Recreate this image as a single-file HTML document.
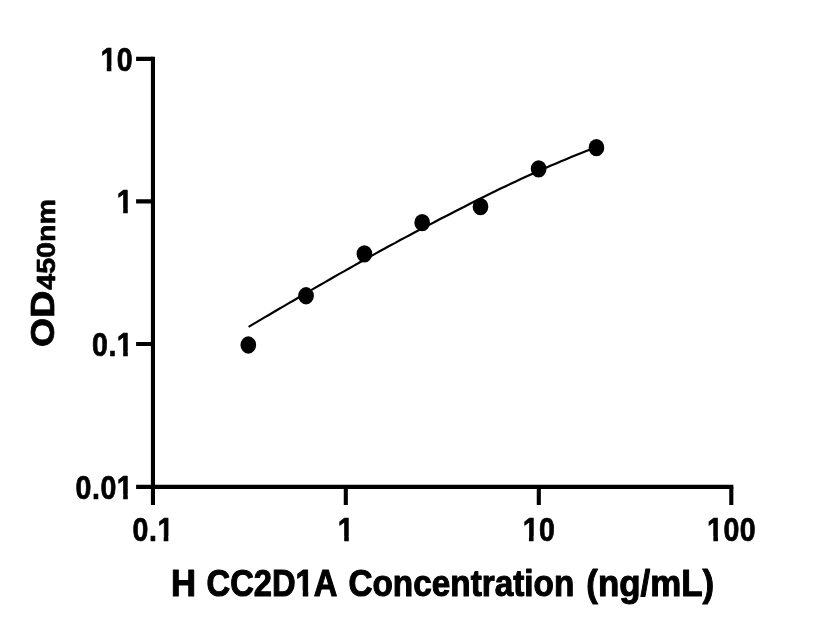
<!DOCTYPE html>
<html><head><meta charset="utf-8"><title>H CC2D1A Concentration</title>
<style>
html,body{margin:0;padding:0;background:#fff;}
svg{display:block}
text{font-family:"Liberation Sans",sans-serif;font-weight:bold;fill:#000;stroke:#000;stroke-linejoin:round;font-kerning:none}
</style></head><body>
<svg width="816" height="640" viewBox="0 0 816 640">
<rect width="816" height="640" fill="#fff"/>
<g>
<text transform="translate(100.46,70.65) scale(0.875,1)" font-size="32.6" stroke-width="0.7" letter-spacing="0.62">10</text>
<rect x="100.40" y="65.97" width="6.36" height="6.83" fill="#fff"/><rect x="111.38" y="65.97" width="5.96" height="6.83" fill="#fff"/>
<text transform="translate(116.86,213.15) scale(0.875,1)" font-size="32.6" stroke-width="0.7" letter-spacing="0.62">1</text>
<rect x="116.81" y="208.47" width="6.36" height="6.83" fill="#fff"/><rect x="127.79" y="208.47" width="6.00" height="6.83" fill="#fff"/>
<text transform="translate(91.99,355.75) scale(0.875,1)" font-size="32.6" stroke-width="0.7" letter-spacing="0.62">0.1</text>
<rect x="116.81" y="351.07" width="6.36" height="6.83" fill="#fff"/><rect x="127.79" y="351.07" width="6.00" height="6.83" fill="#fff"/>
<text transform="translate(75.58,498.65) scale(0.875,1)" font-size="32.6" stroke-width="0.7" letter-spacing="0.62">0.01</text>
<rect x="116.81" y="493.97" width="6.36" height="6.83" fill="#fff"/><rect x="127.79" y="493.97" width="6.00" height="6.83" fill="#fff"/>
<text transform="translate(132.53,540.85) scale(0.875,1)" font-size="32.6" stroke-width="0.7" letter-spacing="0.62">0.1</text>
<rect x="157.35" y="536.17" width="6.36" height="6.83" fill="#fff"/><rect x="168.33" y="536.17" width="6.00" height="6.83" fill="#fff"/>
<text transform="translate(337.87,540.85) scale(0.875,1)" font-size="32.6" stroke-width="0.7" letter-spacing="0.62">1</text>
<rect x="337.81" y="536.17" width="6.36" height="6.83" fill="#fff"/><rect x="348.79" y="536.17" width="6.00" height="6.83" fill="#fff"/>
<text transform="translate(522.66,540.85) scale(0.875,1)" font-size="32.6" stroke-width="0.7" letter-spacing="0.62">10</text>
<rect x="522.61" y="536.17" width="6.36" height="6.83" fill="#fff"/><rect x="533.59" y="536.17" width="5.96" height="6.83" fill="#fff"/>
<text transform="translate(707.06,540.85) scale(0.875,1)" font-size="32.6" stroke-width="0.7" letter-spacing="0.62">100</text>
<rect x="707.01" y="536.17" width="6.36" height="6.83" fill="#fff"/><rect x="717.98" y="536.17" width="5.96" height="6.83" fill="#fff"/>
</g>
<g>
<text transform="translate(170.88,595.90) scale(0.9550,1)" font-size="36.34" stroke-width="1.02">H</text>
<text transform="translate(206.56,595.90) scale(0.9004,1)" font-size="36.34" stroke-width="1.05">CC2D1A</text>
<rect x="295.70" y="590.69" width="7.08" height="7.51" fill="#fff"/><rect x="308.26" y="590.69" width="5.59" height="7.51" fill="#fff"/>
<text transform="translate(348.43,595.90) scale(0.9174,1)" font-size="36.34" stroke-width="1.04">Concentration</text>
<text transform="translate(586.36,595.90) scale(0.9601,1)" font-size="36.34" stroke-width="1.02">(ng/mL)</text>
</g>
<g transform="translate(54.4,0) rotate(-90)">
<text transform="translate(-346.94,-0.40) scale(1.1408,1)" font-size="32.85" stroke-width="0.75">OD</text>
<text transform="translate(-289.78,0.15) scale(1.0967,1)" font-size="26.16" stroke-width="0.67">450nm</text>
</g>
<g stroke="#000" fill="none" stroke-linecap="butt">
<path stroke-width="4.1" d="M136.1,58.9 H152.9 M136.1,201.4 H152.9 M136.1,344 H152.9 M136.1,486.9 H152.9"/>
<path stroke-width="4.1" d="M152.95,56.85 V504.9"/>
<path stroke-width="4.1" d="M150.9,486.9 H733.35"/>
<path stroke-width="4.1" d="M345.8,486.9 V504.9 M538.8,486.9 V504.9 M731.3,486.9 V504.9"/>
</g>
<path d="M248.6,326.9 L253.6,323.9 L258.7,320.9 L263.7,317.9 L268.8,315.0 L273.8,312.0 L278.8,309.0 L283.9,306.1 L288.9,303.1 L294.0,300.2 L299.0,297.2 L304.0,294.3 L309.1,291.4 L314.1,288.4 L319.2,285.5 L324.2,282.6 L329.2,279.7 L334.3,276.8 L339.3,273.9 L344.4,271.1 L349.4,268.2 L354.5,265.4 L359.5,262.5 L364.5,259.7 L369.6,256.9 L374.6,254.1 L379.7,251.3 L384.7,248.5 L389.7,245.8 L394.8,243.1 L399.8,240.3 L404.9,237.6 L409.9,235.0 L414.9,232.3 L420.0,229.6 L425.0,227.0 L430.1,224.4 L435.1,221.7 L440.1,219.1 L445.2,216.5 L450.2,213.9 L455.3,211.3 L460.3,208.7 L465.3,206.2 L470.4,203.6 L475.4,201.1 L480.5,198.5 L485.5,196.0 L490.5,193.5 L495.6,191.1 L500.6,188.6 L505.7,186.2 L510.7,183.8 L515.8,181.4 L520.8,179.1 L525.8,176.7 L530.9,174.4 L535.9,172.2 L541.0,169.9 L546.0,167.7 L551.0,165.5 L556.1,163.4 L561.1,161.3 L566.2,159.2 L571.2,157.1 L576.2,155.0 L581.3,153.0 L586.3,151.0 L591.4,149.0 L596.4,147.1" stroke="#000" stroke-width="2.2" fill="none"/>
<g fill="#000">
<ellipse cx="248.3" cy="345.0" rx="7.85" ry="8.65"/>
<ellipse cx="306.05" cy="295.75" rx="7.85" ry="8.65"/>
<ellipse cx="364.4" cy="253.85" rx="7.85" ry="8.65"/>
<ellipse cx="422.2" cy="222.7" rx="7.85" ry="8.65"/>
<ellipse cx="480.5" cy="206.7" rx="7.85" ry="8.65"/>
<ellipse cx="538.65" cy="168.85" rx="7.85" ry="8.65"/>
<ellipse cx="596.45" cy="147.65" rx="7.85" ry="8.65"/>
</g>
</svg>
</body></html>
